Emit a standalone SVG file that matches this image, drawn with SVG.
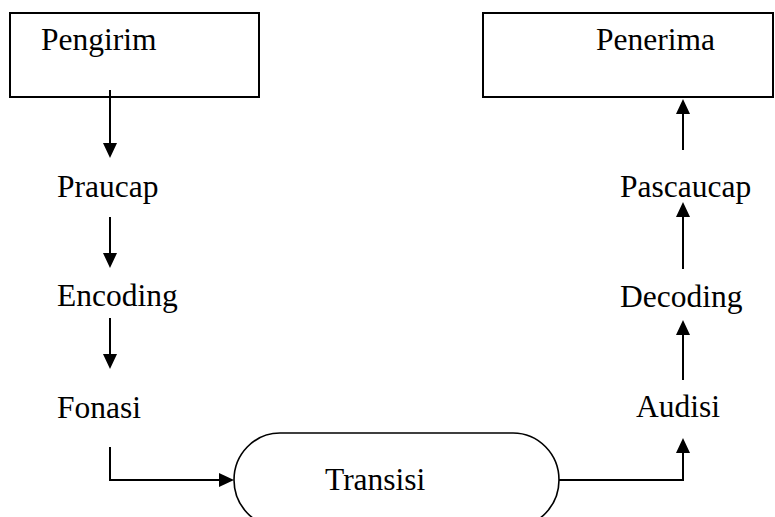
<svg xmlns="http://www.w3.org/2000/svg" width="775" height="517" viewBox="0 0 775 517">
  <style>
    .box { fill: #fff; stroke: #000; stroke-width: 2; }
    .pill { fill: #fff; stroke: #000; stroke-width: 1.6; }
    .lbl { font-family: "Liberation Serif", "Times New Roman", serif; font-size: 31.5px; fill: #000; }
    .wire { fill: none; stroke: #000; stroke-width: 2; }
  </style>
  <defs>
    <marker id="head" markerUnits="userSpaceOnUse" markerWidth="16" markerHeight="15" refX="7" refY="7" orient="auto">
      <path d="M0,0 L15,7 L0,14 Z" fill="#000"/>
    </marker>
  </defs>

  <g id="pengirim">
    <rect class="box" x="10" y="13" width="249" height="84"/>
    <text class="lbl" x="41" y="50">Pengirim</text>
  </g>
  <g id="praucap"><text class="lbl" x="57" y="197">Praucap</text></g>
  <g id="encoding"><text class="lbl" x="57" y="306">Encoding</text></g>
  <g id="fonasi"><text class="lbl" x="57" y="418">Fonasi</text></g>
  <g id="transisi">
    <rect class="pill" x="234" y="433" width="325" height="94" rx="46" ry="47"/>
    <text class="lbl" x="325" y="490">Transisi</text>
  </g>
  <g id="audisi"><text class="lbl" x="636" y="417">Audisi</text></g>
  <g id="decoding"><text class="lbl" x="620" y="307">Decoding</text></g>
  <g id="pascaucap"><text class="lbl" x="620" y="197">Pascaucap</text></g>
  <g id="penerima">
    <rect class="box" x="483" y="13" width="290" height="84"/>
    <text class="lbl" x="596" y="50">Penerima</text>
  </g>

  <g id="connectors">
    <path class="wire" d="M110,90 V150" marker-end="url(#head)"/>
    <path class="wire" d="M110,217 V260" marker-end="url(#head)"/>
    <path class="wire" d="M110,318 V361" marker-end="url(#head)"/>
    <path class="wire" d="M110,447 V480 H226" marker-end="url(#head)"/>
    <path class="wire" d="M559,480 H683 V446" marker-end="url(#head)"/>
    <path class="wire" d="M683,380 V328" marker-end="url(#head)"/>
    <path class="wire" d="M683,269 V210" marker-end="url(#head)"/>
    <path class="wire" d="M683,150 V107" marker-end="url(#head)"/>
  </g>
</svg>
